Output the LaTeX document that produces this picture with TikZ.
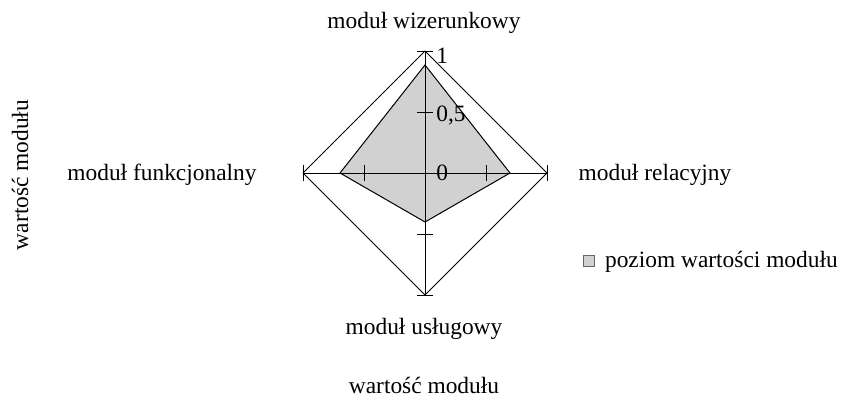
\documentclass[tikz,border=0pt]{standalone}
\usepackage{fontspec}
\setmainfont{Liberation Serif}
\usepackage{tikz}

\begin{document}
\begin{tikzpicture}[x=0.5pt, y=0.5pt, font=\fontsize{11.7}{14}\selectfont]
				\useasboundingbox (0,0) rectangle (844,403);
				\coordinate (C) at (425, 230);
				\coordinate (T) at (425, 352);
				\coordinate (R) at (547, 230);
				\coordinate (B) at (425, 108);
				\coordinate (L) at (303, 230);
				% poziom
				\fill[black!18] (425, 338) -- (510, 230) -- (425, 181) -- (340, 230) -- cycle;
				\draw[line width=0.5pt] (425, 338) -- (510, 230) -- (425, 181) -- (340, 230) -- cycle;
				% ramka i osie
				\draw[line width=0.5pt] (T) -- (R) -- (B) -- (L) -- cycle;
				\draw[line width=0.5pt] (T) -- (B);
				\draw[line width=0.5pt] (L) -- (R);
				\foreach \v in {61, 122} {
					\draw[line width=0.5pt] (417, 230+\v) -- (433, 230+\v);
					\draw[line width=0.5pt] (417, 230-\v) -- (433, 230-\v);
					\draw[line width=0.5pt] (425+\v, 222) -- (425+\v, 238);
					\draw[line width=0.5pt] (425-\v, 222) -- (425-\v, 238);
				}
				\node[anchor=west, inner sep=0pt] (s1) at (436, 347) {1};
				\node[anchor=west, inner sep=0pt] (s05) at (436, 287) {0,5};
				\node[anchor=west, inner sep=0pt] (s0) at (436, 230) {0};
				\node (wiz) at (424, 380) {moduł wizerunkowy};
				\node (rel) at (655, 228) {moduł relacyjny};
				\node (usl) at (424, 74) {moduł usługowy};
				\node (osx) at (424, 18) {wartość modułu};
				\node (fun) at (162, 228) {moduł funkcjonalny};
				\node[rotate=90] (osy) at (20, 228) {wartość modułu};
				\node[draw=black!60, fill=black!18, line width=0.4pt, minimum size=5.5pt, inner sep=0pt] (leg) at (589, 142) {};
				\node[anchor=west] (legt) at (598, 141) {poziom wartości modułu};
			\end{tikzpicture}
\end{document}
